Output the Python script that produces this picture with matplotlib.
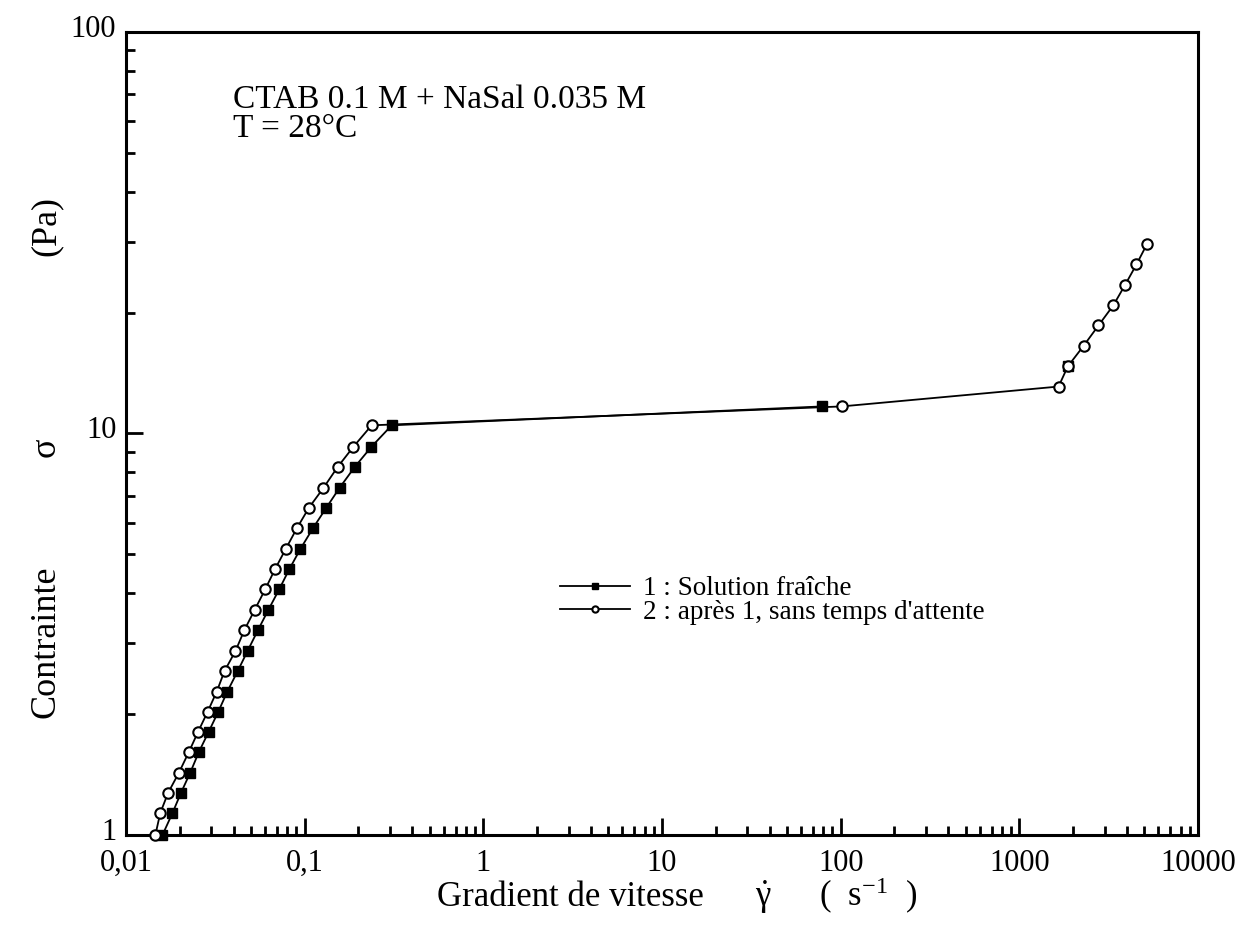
import matplotlib
matplotlib.use("Agg")
import matplotlib.pyplot as plt
from matplotlib.transforms import ScaledTranslation
from matplotlib.ticker import LogLocator, FixedLocator, FixedFormatter, NullFormatter

plt.rcParams['font.family'] = ['Liberation Serif', 'DejaVu Serif']
plt.rcParams['mathtext.fontset'] = 'custom'
plt.rcParams['mathtext.rm'] = 'Liberation Serif'
plt.rcParams['mathtext.it'] = 'Liberation Serif'
plt.rcParams['mathtext.bf'] = 'Liberation Serif:bold'

# ---- data ----
shear_fresh = [0.0160, 0.0182, 0.0203, 0.0229, 0.0256, 0.0290, 0.0328, 0.0369,
               0.0422, 0.0479, 0.0548, 0.0625, 0.0720, 0.0820, 0.0947, 0.1113,
               0.1321, 0.1567, 0.1905, 0.2366, 0.307, 78.8]
stress_fresh = [1.00, 1.134, 1.273, 1.431, 1.611, 1.806, 2.025, 2.276,
                2.561, 2.873, 3.24, 3.63, 4.09, 4.59, 5.16, 5.81,
                6.53, 7.32, 8.25, 9.27, 10.48, 11.68]
# isolated filled point hidden behind an open circle (not joined by a line)
shear_fresh_extra = [1867]
stress_fresh_extra = [14.69]

shear_after = [0.0146, 0.01555, 0.0172, 0.0198, 0.0225, 0.0253, 0.0286, 0.0322,
               0.0356, 0.0410, 0.0460, 0.0524, 0.0601, 0.0682, 0.0784, 0.0905,
               0.1056, 0.1274, 0.1529, 0.1875, 0.237, 101.3, 1658, 1867,
               2291, 2773, 3361, 3915, 4525, 5176]
stress_after = [1.00, 1.134, 1.273, 1.431, 1.611, 1.806, 2.025, 2.276,
                2.561, 2.873, 3.24, 3.63, 4.09, 4.59, 5.16, 5.81,
                6.53, 7.32, 8.25, 9.27, 10.48, 11.68, 13.09, 14.69,
                16.54, 18.58, 20.87, 23.48, 26.37, 29.6]

x_ticks = [0.01, 0.1, 1, 10, 100, 1000, 10000]
x_tick_labels = ['0,01', '0,1', '1', '10', '100', '1000', '10000']
y_ticks = [1, 10, 100]
y_tick_labels = ['1', '10', '100']

label_fresh = '1 : Solution fraîche'
label_after = '2 : après 1, sans temps d\'attente'
note_line1 = 'CTAB 0.1 M + NaSal 0.035 M'
note_line2 = 'T = 28°C'

# ---- figure ----
W, H = 1245, 946
fig = plt.figure(figsize=(W / 100, H / 100), dpi=100)
L, R, T, B = 126, 1198, 32, 835
ax = fig.add_axes([L / W, 1 - B / H, (R - L) / W, (B - T) / H])

line1, = ax.plot(shear_fresh, stress_fresh, '-', color='black', lw=1.3,
                 marker='s', ms=7, mfc='black', mec='black', clip_on=False, zorder=3)
ax.plot(shear_fresh_extra, stress_fresh_extra, ls='none', color='black',
        marker='s', ms=7, mfc='black', mec='black', clip_on=False, zorder=3)
line2, = ax.plot(shear_after, stress_after, '-', color='black', lw=1.3,
                 marker='o', ms=7.5, mfc='white', mec='black', mew=1.5,
                 clip_on=False, zorder=4)

ax.set_xscale('log')
ax.set_yscale('log')
ax.set_xlim(0.01, 10000)
ax.set_ylim(1, 100)

ax.xaxis.set_major_locator(FixedLocator(x_ticks))
ax.xaxis.set_major_formatter(FixedFormatter(x_tick_labels))
ax.xaxis.set_minor_locator(LogLocator(base=10, subs=range(2, 10), numticks=20))
ax.xaxis.set_minor_formatter(NullFormatter())
ax.yaxis.set_major_locator(FixedLocator(y_ticks))
ax.yaxis.set_major_formatter(FixedFormatter(y_tick_labels))
ax.yaxis.set_minor_locator(LogLocator(base=10, subs=range(2, 10), numticks=20))
ax.yaxis.set_minor_formatter(NullFormatter())

ax.tick_params(which='both', direction='in', top=False, right=False, width=2)
ax.tick_params(which='major', length=12, labelsize=22)
ax.tick_params(axis='x', which='major', pad=10)
ax.tick_params(axis='y', which='major', pad=7)
ax.tick_params(which='minor', length=6.5)
for s in ax.spines.values():
    s.set_linewidth(2.2)

# y tick labels sit slightly above their ticks in the reference
shift_up = ScaledTranslation(0, 6 / 100, fig.dpi_scale_trans)
for lbl in ax.get_yticklabels():
    lbl.set_transform(lbl.get_transform() + shift_up)

# annotation
fig.text(233 / W, 1 - 108 / H, note_line1, fontsize=24, ha='left', va='baseline')
fig.text(233 / W, 1 - 137 / H, note_line2, fontsize=24, ha='left', va='baseline')

# axis labels
fig.text(570 / W, 1 - 906 / H, 'Gradient de vitesse', fontsize=25,
         ha='center', va='baseline')
fig.text(763 / W, 1 - 906 / H, r'$\dot{\gamma}$', fontsize=25,
         ha='center', va='baseline')
fig.text(868 / W, 1 - 906 / H, r'(  s$^{\mathregular{-1}}$  )', fontsize=25,
         ha='center', va='baseline')

fig.text(55 / W, 1 - 642 / H, 'Contrainte', fontsize=26, rotation=90,
         rotation_mode='anchor', ha='center', va='baseline')
fig.text(55 / W, 1 - 447 / H, 'σ', fontsize=26, rotation=90,
         rotation_mode='anchor', ha='center', va='baseline')
fig.text(55 / W, 1 - 226 / H, '(Pa)', fontsize=26, rotation=90,
         rotation_mode='anchor', ha='center', va='baseline')

ax.legend([line1, line2], [label_fresh, label_after],
          loc='upper left', bbox_to_anchor=(560 / W, 1 - 576 / H),
          bbox_transform=fig.transFigure, frameon=False, fontsize=19.5,
          markerscale=0.6, handlelength=2.6, handletextpad=0.45,
          labelspacing=-0.05, borderpad=0, borderaxespad=0)

fig.savefig('out.png', dpi=100)
